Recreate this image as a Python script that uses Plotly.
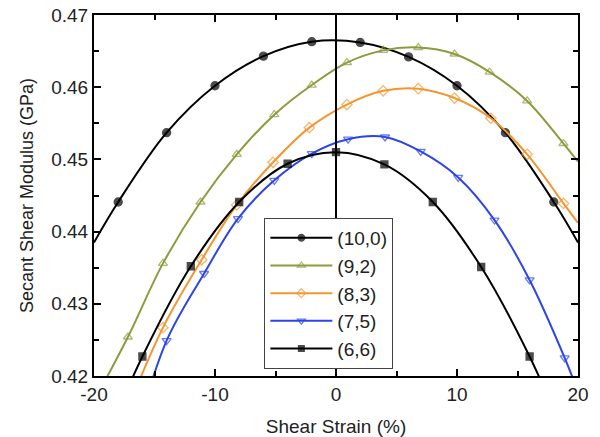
import plotly.graph_objects as go

# Data (shear strain %, secant shear modulus GPa)
x_100 = [-20.0, -18, -14, -10, -6, -2, 2, 6, 10, 14, 18, 20.0]
y_100 = [0.4385, 0.4441, 0.4537, 0.4602, 0.4643, 0.4663, 0.4662, 0.4642, 0.4602, 0.4537, 0.4441, 0.4385]
m_100 = [0, 1, 1, 1, 1, 1, 1, 1, 1, 1, 1, 0]

x_92 = [-20.0, -17.2, -14.3, -11.2, -8.2, -5.1, -2.0, 0.9, 3.9, 6.8, 9.8, 12.7, 15.8, 18.8, 20.0]
y_92 = [0.4165, 0.4254, 0.4356, 0.4441, 0.4507, 0.4562, 0.4603, 0.4634, 0.4651, 0.4655, 0.4646, 0.4621, 0.4581, 0.4522, 0.4497]
m_92 = [0, 1, 1, 1, 1, 1, 1, 1, 1, 1, 1, 1, 1, 1, 0]

x_83 = [-17.2, -14.3, -11.1, -8.2, -5.2, -2.2, 0.9, 3.9, 6.8, 9.8, 12.8, 15.8, 18.8, 20.0]
y_83 = [0.4155, 0.4267, 0.4361, 0.4437, 0.4496, 0.4544, 0.4576, 0.4595, 0.4598, 0.4585, 0.4557, 0.4507, 0.4439, 0.4412]
m_83 = [0, 1, 1, 1, 1, 1, 1, 1, 1, 1, 1, 1, 1, 0]

x_75 = [-16.5, -14.0, -10.9, -8.1, -5.1, -2.0, 1.0, 4.05, 7.0, 10.1, 13.1, 16.0, 18.9, 20.0]
y_75 = [0.4120, 0.4249, 0.4342, 0.4418, 0.4471, 0.4508, 0.4528, 0.4531, 0.4511, 0.4475, 0.4416, 0.4333, 0.4225, 0.4178]
m_75 = [0, 1, 1, 1, 1, 1, 1, 1, 1, 1, 1, 1, 1, 0]

x_66 = [-18.5, -16, -12, -8, -4, 0, 4, 8, 12, 16, 18.5]
y_66 = [0.4132, 0.4227, 0.4352, 0.4441, 0.4494, 0.4510, 0.4493, 0.4441, 0.4351, 0.4227, 0.4132]
m_66 = [0, 1, 1, 1, 1, 1, 1, 1, 1, 1, 0]

x_tickvals = [-20, -10, 0, 10, 20]
x_ticktext = ["-20", "-10", "0", "10", "20"]
y_tickvals = [0.42, 0.43, 0.44, 0.45, 0.46, 0.47]
y_ticktext = ["0.42", "0.43", "0.44", "0.45", "0.46", "0.47"]

names = ["(10,0)", "(9,2)", "(8,3)", "(7,5)", "(6,6)"]
colors = ["#000000", "#8f9a3c", "#f5952f", "#2b45e6", "#000000"]
symbols = ["circle", "triangle-up-open", "diamond-open", "triangle-down-open", "square"]
msizes = [8, 8, 8, 8, 7]
series = [(x_100, y_100, m_100), (x_92, y_92, m_92), (x_83, y_83, m_83),
          (x_75, y_75, m_75), (x_66, y_66, m_66)]

FONT = "Liberation Sans, Arial, Helvetica, sans-serif"

fig = go.Figure()
for (xs, ys, ms), name, col, sym, sz in zip(series, names, colors, symbols, msizes):
    fig.add_trace(go.Scatter(
        x=xs, y=ys, name=name, mode="lines+markers",
        line=dict(color=col, width=2, shape="spline", smoothing=1.0),
        marker=dict(symbol=sym, size=[sz * m for m in ms], color=col,
                    line=dict(color=col, width=1.3)),
        cliponaxis=True,
    ))

fig.add_shape(type="line", xref="x", yref="paper", x0=0, x1=0, y0=0, y1=1,
              line=dict(color="black", width=2), layer="above")

axis_common = dict(
    showline=True, linewidth=2, linecolor="black", mirror="allticks",
    ticks="inside", ticklen=7, tickwidth=1.5, tickcolor="black",
    showgrid=False, zeroline=False, automargin=False,
    tickfont=dict(family=FONT, size=19, color="#222222"),
)

fig.update_xaxes(range=[-20, 20], tickmode="array", tickvals=x_tickvals, ticktext=x_ticktext,
                 minor=dict(ticks="inside", ticklen=5, dtick=5, tick0=-20,
                            tickcolor="black", tickwidth=1.5, showgrid=False),
                 title=dict(text="Shear Strain (%)", font=dict(family=FONT, size=19, color="#222222"),
                            standoff=16),
                 **axis_common)
fig.update_yaxes(range=[0.42, 0.47], tickmode="array", tickvals=y_tickvals, ticktext=y_ticktext,
                 minor=dict(ticks="inside", ticklen=5, dtick=0.005, tick0=0.42,
                            tickcolor="black", tickwidth=1.5, showgrid=False),
                 title=dict(text="Secant Shear Modulus (GPa)", font=dict(family=FONT, size=18, color="#222222"),
                            standoff=13),
                 **axis_common)

fig.update_layout(
    width=600, height=437,
    margin=dict(l=94, r=22, t=15, b=61),
    plot_bgcolor="white", paper_bgcolor="white",
    showlegend=True,
    legend=dict(x=0.352, y=0.438, xanchor="left", yanchor="top",
                bgcolor="white", bordercolor="#444444", borderwidth=1,
                font=dict(family=FONT, size=19, color="#222222"),
                tracegroupgap=0, itemwidth=62),
    font=dict(family=FONT),
)

fig.write_html("out.html")
